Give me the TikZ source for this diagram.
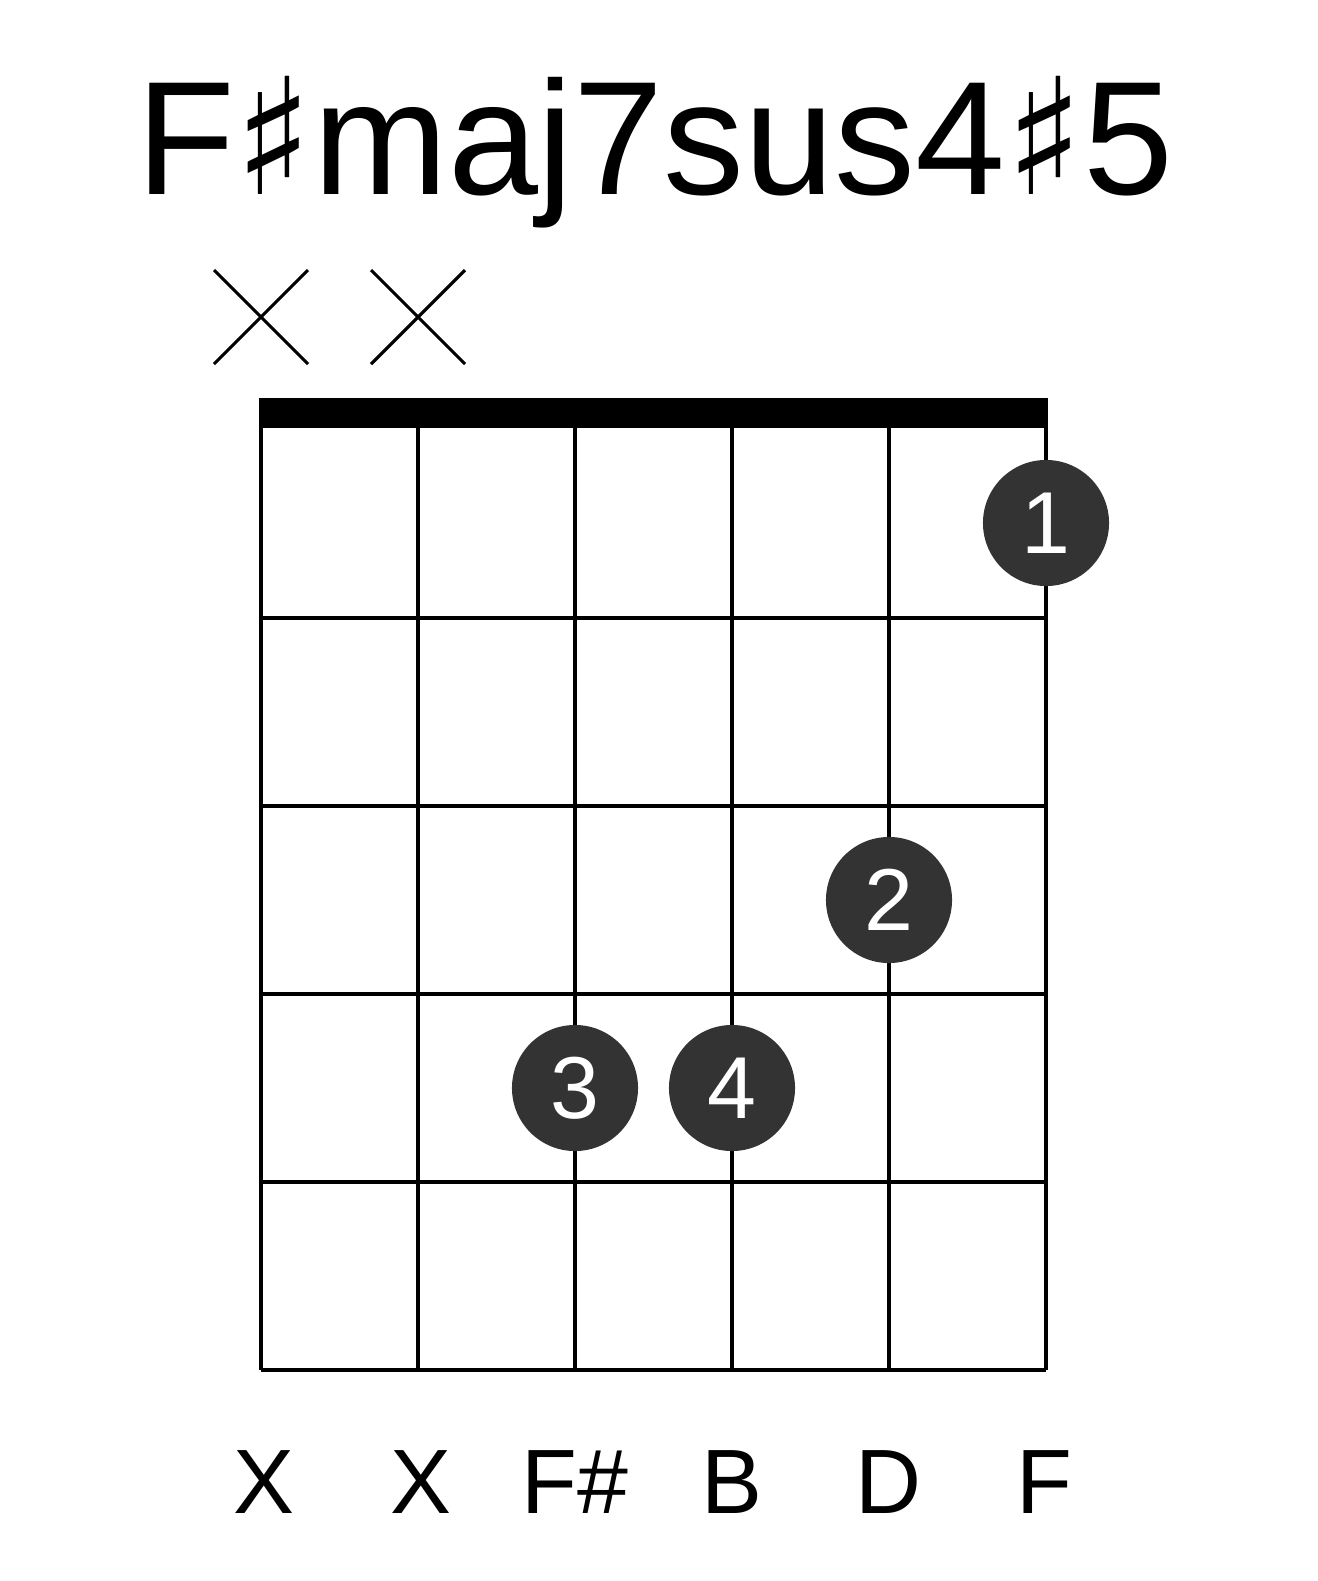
\documentclass[tikz,border=0pt]{standalone}
\usepackage{fontspec}
\setmainfont{Liberation Sans}
\newfontfamily\symf{DejaVu Sans}
\begin{document}
\begin{tikzpicture}[x=0.01cm,y=-0.01cm,
  gridline/.style={line width=0.9pt,black},
  finger/.style={circle,fill=black!80,minimum size=1.26cm,inner sep=0pt,text=white,font=\fontsize{25}{25}\selectfont},
  lbl/.style={font=\fontsize{26}{26}\selectfont},
  xmark/.style={line width=0.9pt}]
\useasboundingbox (0,0) rectangle (1317,1581);
\node (title) at (655,152) {\fontsize{46}{46}\selectfont F{\symf ♯}maj7sus4{\symf ♯}5};
\foreach \x in {261,418,575,732,889,1046}{\draw[gridline] (\x,428) -- (\x,1370);}
\foreach \y in {618,806,994,1182,1370}{\draw[gridline] (261,\y) -- (1046,\y);}
\fill (259,398) rectangle (1048,428);
\foreach \x in {261,418}{\draw[xmark] (\x-47,270) -- (\x+47,364) (\x-47,364) -- (\x+47,270);}
\node[finger] (f1) at (1046,523) {1};
\node[finger] (f2) at (889,900) {2};
\node[finger] (f3) at (575,1088) {3};
\node[finger] (f4) at (732,1088) {4};
\node[lbl] (l1) at (264,1482) {X};
\node[lbl] (l2) at (421,1482) {X};
\node[lbl] (l3) at (575,1482) {F\#};
\node[lbl] (l4) at (732,1482) {B};
\node[lbl] (l5) at (889,1482) {D};
\node[lbl] (l6) at (1044,1482) {F};
\end{tikzpicture}
\end{document}
